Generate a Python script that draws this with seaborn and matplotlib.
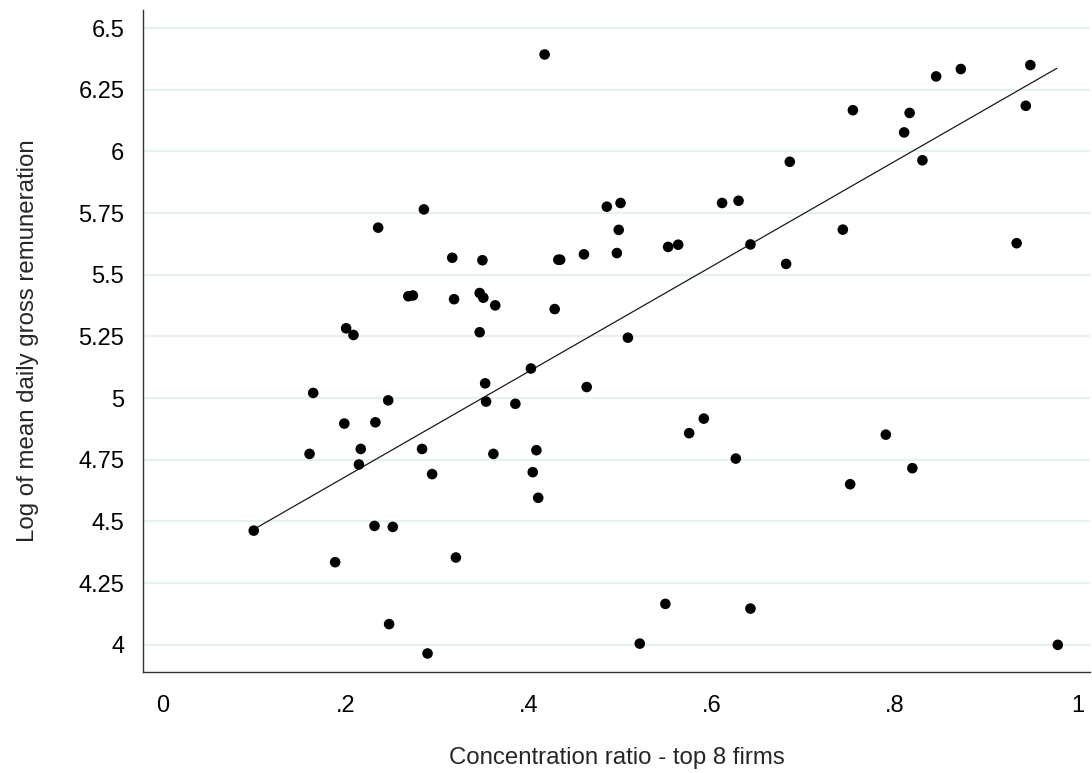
import matplotlib
matplotlib.use("Agg")
import numpy as np
import pandas as pd
import matplotlib.pyplot as plt
import seaborn as sns

# concentration ratio (top 8 firms) and log mean daily gross remuneration
cr8 = [0.285, 0.235, 0.316, 0.268, 0.273, 0.318, 0.200, 0.208, 0.417, 0.485,
       0.500, 0.611, 0.629, 0.498, 0.349, 0.432, 0.434, 0.460, 0.496, 0.552,
       0.563, 0.642, 0.346, 0.350, 0.363, 0.428, 0.346, 0.508, 0.948, 0.872,
       0.845, 0.943, 0.754, 0.816, 0.810, 0.685, 0.830, 0.743, 0.681, 0.933,
       0.164, 0.246, 0.198, 0.232, 0.160, 0.216, 0.214, 0.283, 0.294, 0.099,
       0.231, 0.251, 0.188, 0.320, 0.247, 0.289, 0.402, 0.352, 0.463, 0.353,
       0.385, 0.591, 0.575, 0.626, 0.361, 0.408, 0.404, 0.410, 0.549, 0.642,
       0.521, 0.790, 0.819, 0.751, 0.978]
log_wage = [5.765, 5.691, 5.569, 5.413, 5.416, 5.401, 5.283, 5.256, 6.393, 5.776,
            5.791, 5.791, 5.800, 5.682, 5.559, 5.561, 5.561, 5.583, 5.588, 5.613,
            5.622, 5.623, 5.426, 5.407, 5.376, 5.361, 5.267, 5.245, 6.350, 6.334,
            6.304, 6.185, 6.167, 6.156, 6.077, 5.958, 5.964, 5.683, 5.544, 5.628,
            5.021, 4.991, 4.897, 4.902, 4.774, 4.794, 4.731, 4.794, 4.692, 4.463,
            4.482, 4.478, 4.335, 4.354, 4.084, 3.965, 5.120, 5.060, 5.045, 4.986,
            4.977, 4.917, 4.858, 4.755, 4.774, 4.789, 4.700, 4.596, 4.166, 4.147,
            4.005, 4.852, 4.716, 4.651, 4.000]

# fitted line as drawn in the original (endpoints)
fit_x = [0.099, 0.977]
fit_y = [4.468, 6.337]

x_ticks = [0, 0.2, 0.4, 0.6, 0.8, 1.0]
x_tick_labels = ["0", ".2", ".4", ".6", ".8", "1"]
y_ticks = [4, 4.25, 4.5, 4.75, 5, 5.25, 5.5, 5.75, 6, 6.25, 6.5]
y_tick_labels = ["4", "4.25", "4.5", "4.75", "5", "5.25", "5.5", "5.75", "6", "6.25", "6.5"]

df = pd.DataFrame({"cr8": cr8, "log_wage": log_wage})
fit = pd.DataFrame({"cr8": fit_x, "log_wage": fit_y})

sns.set_theme(style="white")
plt.rcParams["font.family"] = ["Liberation Sans", "DejaVu Sans"]

fig = plt.figure(figsize=(10.92, 7.73), dpi=100)
ax = fig.add_axes([0.131, 0.131, 0.867, 0.856])

# horizontal grid only, stata-like light blue-grey
for yv in y_ticks:
    ax.axhline(yv, color="#e8f0f2", lw=1.6, zorder=0)

sns.lineplot(data=fit, x="cr8", y="log_wage", ax=ax, color="#1a1a1a",
             lw=0.9, zorder=2)
sns.scatterplot(data=df, x="cr8", y="log_wage", ax=ax, color="black",
                s=58, edgecolor="none", zorder=3)

ax.set_xlim(-0.022, 1.013)
ax.set_ylim(3.891, 6.573)
ax.set_xticks(x_ticks)
ax.set_xticklabels(x_tick_labels)
ax.set_yticks(y_ticks)
ax.set_yticklabels(y_tick_labels)

for side in ["top", "right"]:
    ax.spines[side].set_visible(False)
for side in ["left", "bottom"]:
    ax.spines[side].set_color("#333333")
    ax.spines[side].set_linewidth(1.0)

ax.tick_params(axis="both", which="major", direction="out", length=8.5,
               width=1.0, color="#333333", labelsize=17, labelcolor="black")
ax.tick_params(axis="x", pad=8)
ax.tick_params(axis="y", pad=5)

ax.set_xlabel("Concentration ratio - top 8 firms", fontsize=17.3, labelpad=22)
ax.set_ylabel("Log of mean daily gross remuneration", fontsize=17.3, labelpad=28)

plt.savefig("out.png", dpi=100)
plt.close()
